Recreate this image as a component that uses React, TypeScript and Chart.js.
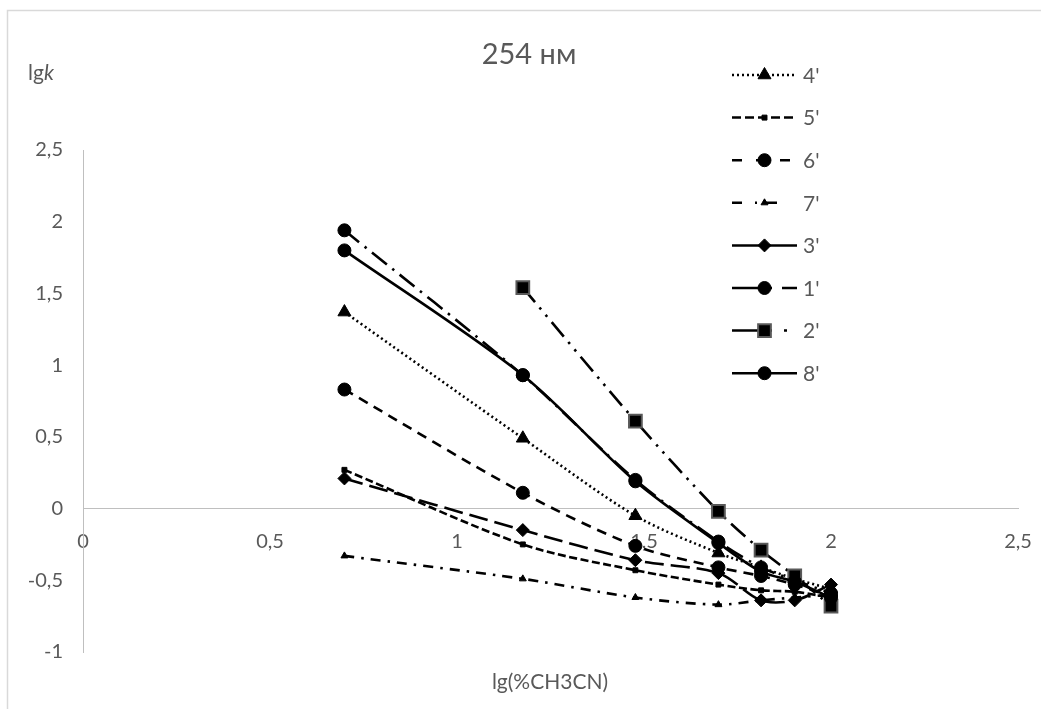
import { useEffect, useRef } from "react";
import { Chart, registerables } from "chart.js";
import { drawPoint } from "chart.js/helpers";

Chart.register(...registerables);

// lg of acetonitrile percentage (5, 15, 30, 50, 65, 80, 100 %)
const xValues = [0.699, 1.176, 1.477, 1.699, 1.813, 1.903, 2.0];

const seriesNames = ["4'", "5'", "6'", "7'", "3'", "1'", "2'", "8'"];
const s4 = [1.37, 0.49, -0.05, -0.31, -0.41, -0.49, -0.56];
const s5 = [0.27, -0.25, -0.43, -0.53, -0.57, -0.58, -0.62];
const s6 = [0.83, 0.11, -0.26, -0.41, -0.47, -0.53, -0.61];
const s7 = [-0.33, -0.49, -0.62, -0.67, -0.64, -0.62, -0.6];
const s3 = [0.21, -0.15, -0.36, -0.45, -0.64, -0.64, -0.53];
const s1 = [1.94, 0.93, 0.2, -0.23, -0.41, -0.5, -0.59];
const s2 = [null, 1.54, 0.61, -0.02, -0.29, -0.47, -0.68];
const s8 = [1.8, 0.93, 0.19, -0.24, -0.44, -0.51, -0.62];
const seriesValues = [s4, s5, s6, s7, s3, s1, s2, s8];

const xTickValues = [0, 0.5, 1, 1.5, 2, 2.5];
const yTickValues = [-1, -0.5, 0, 0.5, 1, 1.5, 2, 2.5];

const titleText = "254 нм";
const xAxisTitle = "lg(%CH3CN)";
const yAxisTitleMain = "lg";
const yAxisTitleItalic = "k";

const FONT = "Lato, 'Open Sans', sans-serif";
const TEXT_GREY = "#595959";
const AXIS_GREY = "#bfbfbf";

type SeriesStyle = {
  dash: number[];
  legendDash: number[];
  pointStyle: string;
  radius: number;
  pointBorder: string;
  pointBorderWidth: number;
};

const styles: SeriesStyle[] = [
  { dash: [2, 3], legendDash: [2, 3], pointStyle: "triangle", radius: 7.5, pointBorder: "#000", pointBorderWidth: 1 },
  { dash: [8, 3.5], legendDash: [9, 4], pointStyle: "rect", radius: 3.5, pointBorder: "#000", pointBorderWidth: 1 },
  { dash: [10, 7], legendDash: [10, 14], pointStyle: "circle", radius: 6.5, pointBorder: "#000", pointBorderWidth: 1 },
  { dash: [10, 7, 2.5, 7], legendDash: [10, 13, 2, 6, 14, 20], pointStyle: "triangle", radius: 4, pointBorder: "#000", pointBorderWidth: 1 },
  { dash: [19, 7], legendDash: [], pointStyle: "rectRot", radius: 6.5, pointBorder: "#000", pointBorderWidth: 1 },
  { dash: [19, 7, 2.5, 7], legendDash: [40, 10, 15], pointStyle: "circle", radius: 6.5, pointBorder: "#000", pointBorderWidth: 1 },
  { dash: [19, 7, 2.5, 7, 2.5, 7], legendDash: [40, 12, 3, 20], pointStyle: "rect", radius: 9, pointBorder: "#595959", pointBorderWidth: 2 },
  { dash: [], legendDash: [], pointStyle: "circle", radius: 6.5, pointBorder: "#000", pointBorderWidth: 1 },
];

const fmt = (v: number) => String(v).replace(".", ",");

const decorPlugin = {
  id: "decor",
  beforeDraw(chart: any) {
    const ctx = chart.ctx;
    ctx.save();
    ctx.fillStyle = "#ffffff";
    ctx.fillRect(0, 0, chart.width, chart.height);
    ctx.strokeStyle = "#d9d9d9";
    ctx.lineWidth = 1.5;
    ctx.strokeRect(7.5, 10.5, chart.width + 20, chart.height + 20);
    ctx.restore();
  },
  afterDraw(chart: any) {
    const ctx = chart.ctx;
    ctx.save();
    ctx.fillStyle = TEXT_GREY;
    ctx.textBaseline = "alphabetic";

    // chart title
    ctx.font = `29px ${FONT}`;
    ctx.textAlign = "center";
    ctx.fillText(titleText, 529, 64);

    // x axis title
    ctx.font = `21px ${FONT}`;
    ctx.fillText(xAxisTitle, 550, 689);

    // y axis title: lg + italic k
    ctx.textAlign = "left";
    ctx.font = `21px ${FONT}`;
    ctx.fillText(yAxisTitleMain, 28, 80);
    const w = ctx.measureText(yAxisTitleMain).width;
    ctx.font = `italic 21px ${FONT}`;
    ctx.fillText(yAxisTitleItalic, 28 + w, 80);

    // legend: line sample with marker, then name
    const x0 = 732;
    const x1 = 797;
    chart.data.datasets.forEach((ds: any, i: number) => {
      const st = styles[i];
      const y = 75 + i * 42.6;
      ctx.save();
      ctx.strokeStyle = "#000";
      ctx.lineWidth = 2.5;
      ctx.lineCap = "butt";
      ctx.setLineDash(st.legendDash);
      ctx.beginPath();
      ctx.moveTo(x0, y);
      ctx.lineTo(x1, y);
      ctx.stroke();
      ctx.setLineDash([]);
      ctx.fillStyle = "#000";
      ctx.strokeStyle = st.pointBorder;
      ctx.lineWidth = st.pointBorderWidth;
      drawPoint(ctx, { pointStyle: st.pointStyle as any, rotation: 0, radius: st.radius, borderWidth: st.pointBorderWidth }, (x0 + x1) / 2, y);
      ctx.restore();
      ctx.fillStyle = TEXT_GREY;
      ctx.font = `21px ${FONT}`;
      ctx.textAlign = "left";
      ctx.textBaseline = "middle";
      ctx.fillText(ds.label, 803, y + 1);
    });
    ctx.restore();
  },
};

export default function App() {
  const canvasRef = useRef<HTMLCanvasElement | null>(null);

  useEffect(() => {
    const canvas = canvasRef.current;
    if (!canvas) return;

    const datasets = seriesNames.map((name, i) => {
      const st = styles[i];
      const values = seriesValues[i];
      const points = xValues
        .map((x, j) => ({ x, y: values[j] }))
        .filter((p) => p.y !== null) as { x: number; y: number }[];
      return {
        label: name,
        data: points,
        order: -i,
        showLine: true,
        borderColor: "#000000",
        backgroundColor: "#000000",
        borderWidth: 2.6,
        borderDash: st.dash,
        borderCapStyle: "butt" as const,
        tension: 0.3,
        pointStyle: st.pointStyle as any,
        pointRadius: st.radius,
        pointBorderColor: st.pointBorder,
        pointBorderWidth: st.pointBorderWidth,
        pointBackgroundColor: "#000000",
        clip: false as const,
      };
    });

    const chart = new Chart(canvas, {
      type: "scatter",
      data: { datasets },
      plugins: [decorPlugin],
      options: {
        responsive: false,
        animation: false,
        layout: { padding: { top: 150, bottom: 57, right: 23, left: 0 } },
        plugins: {
          legend: { display: false },
          tooltip: { enabled: false },
          title: { display: false },
        },
        scales: {
          x: {
            type: "linear",
            min: 0,
            max: 2.5,
            position: { y: 0 } as any,
            grid: { display: false, drawTicks: false },
            border: { display: true, color: AXIS_GREY, width: 1 },
            afterBuildTicks: (s: any) => {
              s.ticks = xTickValues.map((v) => ({ value: v }));
            },
            afterFit: (s: any) => {
              s.paddingLeft = 0;
              s.paddingRight = 0;
              s.height = 0;
            },
            ticks: {
              padding: 21,
              color: TEXT_GREY,
              font: { family: FONT, size: 20 },
              callback: (v: any) => fmt(Number(v)),
            },
          },
          y: {
            type: "linear",
            min: -1,
            max: 2.5,
            grid: { display: false, drawTicks: false },
            border: { display: true, color: AXIS_GREY, width: 1 },
            afterBuildTicks: (s: any) => {
              s.ticks = yTickValues.map((v) => ({ value: v }));
            },
            afterFit: (s: any) => {
              s.width = 83;
              s.paddingTop = 0;
              s.paddingBottom = 0;
            },
            ticks: {
              padding: 20,
              color: TEXT_GREY,
              font: { family: FONT, size: 20 },
              callback: (v: any) => fmt(Number(v)),
            },
          },
        },
      },
    });

    return () => chart.destroy();
  }, []);

  return (
    <div style={{ position: "absolute", left: 0, top: 0, width: 1041, height: 709, background: "#fff" }}>
      <canvas ref={canvasRef} width={1041} height={709} style={{ display: "block" }} />
    </div>
  );
}
